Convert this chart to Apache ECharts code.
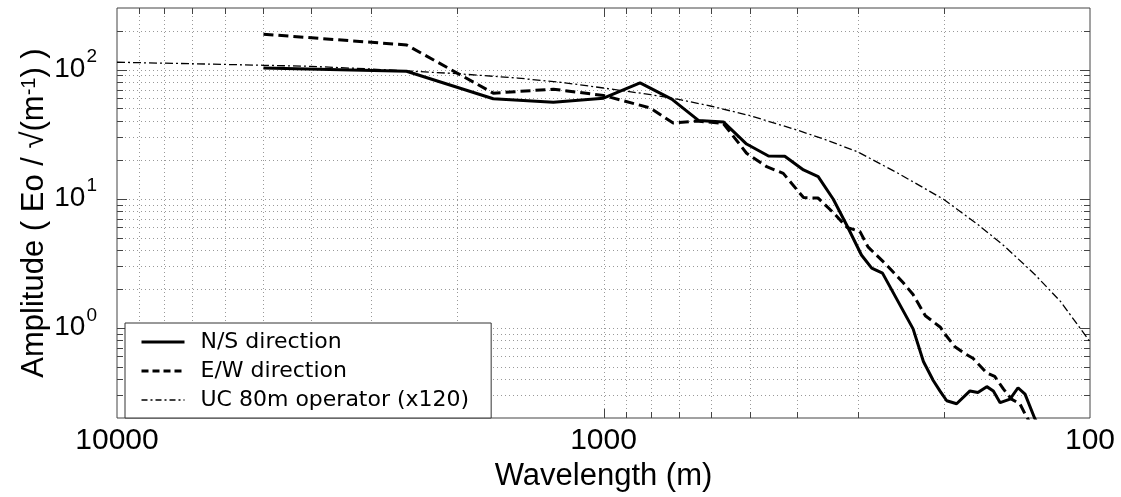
<!DOCTYPE html>
<html>
<head>
<meta charset="utf-8">
<script src="https://cdn.jsdelivr.net/npm/echarts@6/dist/echarts.min.js"></script>
<style>
  html, body { margin: 0; padding: 0; background: #fff; }
  #char1 { width: 1121px; height: 497px; }
</style>
</head>
<body>
<div id="char1"></div>
<script>
  // N/S direction (wavelength m / amplitude)
  var nsWave = [5000, 2540, 1685, 1268, 1000, 841, 724, 638, 567, 508, 458, 424, 388, 362, 337, 316, 295, 281, 267, 231, 220, 210, 203, 197, 188, 176.5, 170, 163, 158, 153, 146, 140.6, 136, 130, 127];
  var nsAmp  = [103, 97, 59.4, 55.8, 60, 79, 59, 40.4, 39.3, 26.5, 21.4, 21.3, 16.7, 14.8, 9.9, 6.2, 3.66, 2.9, 2.65, 0.98, 0.548, 0.39, 0.32, 0.272, 0.258, 0.324, 0.315, 0.35, 0.324, 0.263, 0.28, 0.343, 0.306, 0.2, 0.17];

  // E/W direction
  var ewWave = [5000, 2538, 1685, 1268, 1000, 802, 719, 643, 567, 508, 462, 427, 388, 362, 337, 316, 297, 286, 262, 242, 231, 218, 203, 199, 189.5, 180.7, 174, 163, 157, 150.7, 145, 139.3, 136, 133];
  var ewAmp  = [188, 155, 65.7, 70.5, 63, 50.5, 38.5, 40, 38.2, 22.5, 17.7, 15.7, 10.2, 10.1, 7.8, 6.0, 5.56, 4.23, 3.07, 2.23, 1.81, 1.24, 1.01, 0.9, 0.713, 0.63, 0.58, 0.447, 0.42, 0.336, 0.28, 0.257, 0.215, 0.185];

  // UC 80m operator (x120)
  var ucWave = [10000, 7000, 5000, 4000, 3000, 2000, 1500, 1200, 1000, 800, 700, 600, 500, 400, 350, 300, 250, 200, 170, 150, 130, 115, 100];
  var ucAmp  = [114, 111, 108, 106, 101, 93, 86, 79, 72, 64, 58.7, 52, 44, 34, 28.7, 23, 16, 9.9, 6.3, 4.3, 2.6, 1.6, 0.78];

  // grid / tick values
  var xGridVals = [9000, 8000, 7000, 6000, 5000, 4000, 3000, 2000, 1000, 900, 800, 700, 600, 500, 400, 300, 200];
  var yGridVals = [0.3, 0.4, 0.5, 0.6, 0.7, 0.8, 0.9, 1, 2, 3, 4, 5, 6, 7, 8, 9, 10, 20, 30, 40, 50, 60, 70, 80, 90, 100, 200];

  var seriesNames = ['N/S direction', 'E/W direction', 'UC 80m operator (x120)'];

  function pairs(xs, ys) {
    var out = [];
    for (var i = 0; i < xs.length; i++) {
      out.push([xs[i], ys[i]]);
    }
    return out;
  }

  function isDecade(v) {
    var l = Math.log10(v);
    return Math.abs(l - Math.round(l)) < 1e-6;
  }

  var dotStyle = { stroke: '#999', lineWidth: 1, lineDash: [1, 3] };
  var tickStyle = { stroke: '#444', lineWidth: 1 };

  //竖向网格 + 上下刻度
  function renderXGrid(params, api) {
    var cs = params.coordSys;
    var v = api.value(0);
    var len = isDecade(v) ? 9 : 6;
    var x = Math.round(api.coord([v, 1])[0]) + 0.5;
    var t = cs.y, b = cs.y + cs.height;
    return {
      type: 'group',
      children: [
        { type: 'line', shape: { x1: x, y1: t, x2: x, y2: b }, style: dotStyle },
        { type: 'line', shape: { x1: x, y1: b, x2: x, y2: b - len }, style: tickStyle },
        { type: 'line', shape: { x1: x, y1: t, x2: x, y2: t + len }, style: tickStyle }
      ]
    };
  }

  //横向网格 + 左右刻度
  function renderYGrid(params, api) {
    var cs = params.coordSys;
    var v = api.value(1);
    var len = isDecade(v) ? 10 : 6;
    var y = Math.round(api.coord([1000, v])[1]) + 0.5;
    var l = cs.x, r = cs.x + cs.width;
    return {
      type: 'group',
      children: [
        { type: 'line', shape: { x1: l, y1: y, x2: r, y2: y }, style: dotStyle },
        { type: 'line', shape: { x1: l, y1: y, x2: l + len, y2: y }, style: tickStyle },
        { type: 'line', shape: { x1: r, y1: y, x2: r - len, y2: y }, style: tickStyle }
      ]
    };
  }

  var dom = document.getElementById("char1");
  var myChart = echarts.init(dom, null, { renderer: 'canvas' });

  var option = null;
  option = {
    backgroundColor: '#fff',
    animation: false,
    grid: {
      left: 117,
      right: 31,
      top: 8,
      bottom: 71,
      show: true,
      borderColor: '#444',
      borderWidth: 1,
      containLabel: false
    },
    legend: {
      data: [
        { name: seriesNames[0], lineStyle: { width: 3 } },
        { name: seriesNames[1], lineStyle: { width: 3, type: [7, 4] } },
        { name: seriesNames[2], lineStyle: { width: 1.3, type: [6, 3, 2, 3] } }
      ],
      orient: 'vertical',
      left: 125,
      top: 323,
      padding: [8, 22, 7, 15],
      itemGap: 7,
      itemWidth: 43,
      itemHeight: 14,
      backgroundColor: '#fff',
      borderColor: '#333',
      borderWidth: 1,
      borderRadius: 0,
      // 图例里不要圆点
      itemStyle: { color: 'rgba(0,0,0,0)', borderColor: 'rgba(0,0,0,0)', borderWidth: 0, opacity: 0 },
      textStyle: {
        fontFamily: 'DejaVu Sans',
        fontSize: 22,
        color: '#000',
        padding: [0, 0, 0, 11]
      }
    },
    xAxis: {
      type: 'log',
      logBase: 10,
      inverse: true,
      min: 100,
      max: 10000,
      name: 'Wavelength (m)',
      nameLocation: 'middle',
      nameGap: 43,
      nameMoveOverlap: false,
      nameTextStyle: { fontFamily: 'Liberation Sans', fontSize: 31, color: '#000' },
      axisLine: { show: false },
      axisTick: { show: false },
      splitLine: { show: false },
      axisLabel: {
        margin: 8,
        fontFamily: 'Liberation Sans',
        fontSize: 30,
        color: '#000',
        formatter: function (v) {
          return isDecade(v) ? String(Math.round(v)) : '';
        }
      }
    },
    yAxis: {
      type: 'log',
      logBase: 10,
      min: 0.2,
      max: 300,
      name: 'Amplitude ( Eo / √(m{sup|-1}) )',
      nameLocation: 'middle',
      nameRotate: 90,
      nameGap: 67,
      nameMoveOverlap: false,
      nameTextStyle: {
        fontFamily: 'Liberation Sans',
        fontSize: 31,
        color: '#000',
        rich: {
          sup: { fontFamily: 'Liberation Sans', fontSize: 20, color: '#000', verticalAlign: 'top', padding: [0, 0, 8, 0] }
        }
      },
      axisLine: { show: false },
      axisTick: { show: false },
      splitLine: { show: false },
      axisLabel: {
        margin: 20,
        color: '#000',
        formatter: function (v) {
          if (!isDecade(v)) return '';
          return '{b|10}{s|' + Math.round(Math.log10(v)) + '}';
        },
        rich: {
          b: { fontFamily: 'Liberation Sans', fontSize: 28, color: '#000', padding: [8, 0, 8, 0] },
          s: { fontFamily: 'Liberation Sans', fontSize: 19, color: '#000', verticalAlign: 'top', padding: [0, 0, 0, 1] }
        }
      }
    },
    series: [
      {
        name: 'xgrid',
        type: 'custom',
        silent: true,
        z: 1,
        renderItem: renderXGrid,
        data: xGridVals.map(function (v) { return [v, 1]; })
      },
      {
        name: 'ygrid',
        type: 'custom',
        silent: true,
        z: 1,
        renderItem: renderYGrid,
        data: yGridVals.map(function (v) { return [1000, v]; })
      },
      {
        name: seriesNames[0],
        type: 'line',
        symbol: 'none',
        z: 3,
        clip: true,
        lineStyle: { color: '#000', width: 3, type: 'solid' },
        itemStyle: { color: '#000' },
        data: pairs(nsWave, nsAmp)
      },
      {
        name: seriesNames[1],
        type: 'line',
        symbol: 'none',
        z: 3,
        clip: true,
        lineStyle: { color: '#000', width: 3, type: [10, 5] },
        itemStyle: { color: '#000' },
        data: pairs(ewWave, ewAmp)
      },
      {
        name: seriesNames[2],
        type: 'line',
        symbol: 'none',
        z: 2,
        clip: true,
        lineStyle: { color: '#000', width: 1.3, type: [8, 3, 2, 3] },
        itemStyle: { color: '#000' },
        data: pairs(ucWave, ucAmp)
      }
    ]
  };
  if (option && typeof option === "object") {
    myChart.setOption(option, true);
  }
</script>
</body>
</html>
